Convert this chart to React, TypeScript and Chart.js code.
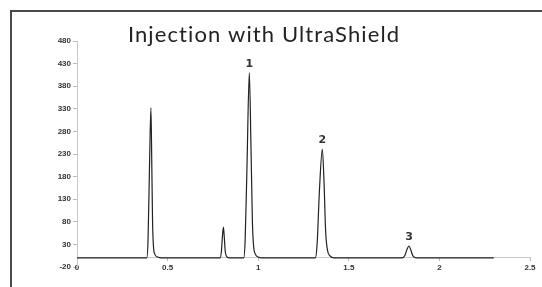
import React, { useEffect, useRef } from "react";
import { Chart, registerables } from "chart.js";

Chart.register(...registerables);

const TITLE = "Injection with UltraShield";
const X_TICKS = [0, 0.5, 1, 1.5, 2, 2.5];
const Y_TICKS = [-20, 30, 80, 130, 180, 230, 280, 330, 380, 430, 480];

// retention time (min) / detector signal
const baseStartT = [0, 0.385];
const baseStartV = [0, 0];
const peakAT = [0.392, 0.4, 0.408, 0.413, 0.417, 0.422, 0.43, 0.445, 0.47];
const peakAV = [40, 200, 332, 200, 80, 25, 8, 2, 0];
const peakBT = [0.79, 0.797, 0.803, 0.808, 0.813, 0.818, 0.825, 0.84];
const peakBV = [0, 15, 50, 68, 45, 15, 4, 0];
const peak1T = [0.92, 0.928, 0.938, 0.951, 0.96, 0.968, 0.975, 0.985, 1.0, 1.02];
const peak1V = [0, 40, 200, 410, 250, 80, 25, 8, 2, 0];
const peak2T = [1.315, 1.325, 1.338, 1.354, 1.364, 1.372, 1.382, 1.395, 1.42];
const peak2V = [0, 30, 150, 241, 160, 60, 18, 5, 0];
const peak3T = [1.795, 1.81, 1.822, 1.832, 1.842, 1.852, 1.865, 1.88];
const peak3V = [0, 6, 20, 26.5, 18, 6, 1, 0];
const baseEndT = [2.3];
const baseEndV = [0];

const PEAK_LABELS = ["1", "2", "3"];
const PEAK_LABEL_T = [0.951, 1.354, 1.832];
const PEAK_LABEL_V = [410, 241, 26.5];

const allT = [...baseStartT, ...peakAT, ...peakBT, ...peak1T, ...peak2T, ...peak3T, ...baseEndT];
const allV = [...baseStartV, ...peakAV, ...peakBV, ...peak1V, ...peak2V, ...peak3V, ...baseEndV];

const overlay = {
  id: "overlay",
  afterDraw(chart: any) {
    const ctx = chart.ctx;
    const xs = chart.scales.x;
    const ys = chart.scales.y;
    ctx.save();
    ctx.fillStyle = "#222";
    ctx.textAlign = "center";
    ctx.textBaseline = "middle";
    ctx.font = "22px Lato";
    (ctx as any).letterSpacing = "1.1px";
    ctx.fillText(TITLE, 264, 35);
    (ctx as any).letterSpacing = "0px";
    ctx.font = "bold 11px 'DejaVu Sans'";
    ctx.fillStyle = "#333";
    ctx.textBaseline = "alphabetic";
    PEAK_LABELS.forEach((l, i) => {
      const px = xs.getPixelForValue(PEAK_LABEL_T[i]);
      const py = ys.getPixelForValue(PEAK_LABEL_V[i]);
      ctx.fillText(l, px, py - 6);
    });
    ctx.restore();
  },
};

export default function App() {
  const ref = useRef<HTMLCanvasElement>(null);
  useEffect(() => {
    const tickFont = { family: "'Liberation Sans'", size: 8, weight: "bold" as const };
    const chart = new Chart(ref.current!, {
      type: "line",
      data: {
        datasets: [
          {
            data: allT.map((t, i) => ({ x: t, y: allV[i] })),
            borderColor: "#222",
            borderWidth: 1.2,
            pointRadius: 0,
            fill: false,
            cubicInterpolationMode: "monotone",
          },
        ],
      },
      options: {
        responsive: false,
        animation: false,
        layout: { padding: { left: 38, right: 12, top: 41, bottom: 20 } },
        plugins: { legend: { display: false }, tooltip: { enabled: false }, title: { display: false } },
        scales: {
          x: {
            type: "linear",
            position: { y: 0 } as any,
            min: 0,
            max: 2.5,
            afterBuildTicks: (s: any) => {
              s.ticks = X_TICKS.map((v) => ({ value: v }));
            },
            ticks: { font: tickFont, color: "#333", padding: 2, maxRotation: 0, autoSkip: false, callback: (v: any) => String(v) },
            grid: { drawOnChartArea: false, tickLength: 3, color: "#bbb" },
            border: { color: "#c8c8c8" },
          },
          y: {
            min: -20,
            max: 480,
            afterBuildTicks: (s: any) => {
              s.ticks = Y_TICKS.map((v) => ({ value: v }));
            },
            afterFit: (s: any) => {
              s.width = 39;
            },
            ticks: { font: tickFont, color: "#333", padding: 2 },
            grid: { drawOnChartArea: false, tickLength: 4, color: "#bbb" },
            border: { color: "#c8c8c8" },
          },
        },
      },
      plugins: [overlay],
    });
    return () => chart.destroy();
  }, []);
  return (
    <div style={{ position: "absolute", left: 0, top: 0, width: 542, height: 287, background: "#fff", overflow: "hidden" }}>
      <div
        style={{
          position: "absolute",
          left: 10,
          top: 10,
          right: -10,
          bottom: -10,
          borderLeft: "2px solid #4a4a4a",
          borderTop: "2px solid #4a4a4a",
        }}
      />
      <canvas ref={ref} width={542} height={287} style={{ position: "absolute", left: 0, top: 0 }} />
    </div>
  );
}
